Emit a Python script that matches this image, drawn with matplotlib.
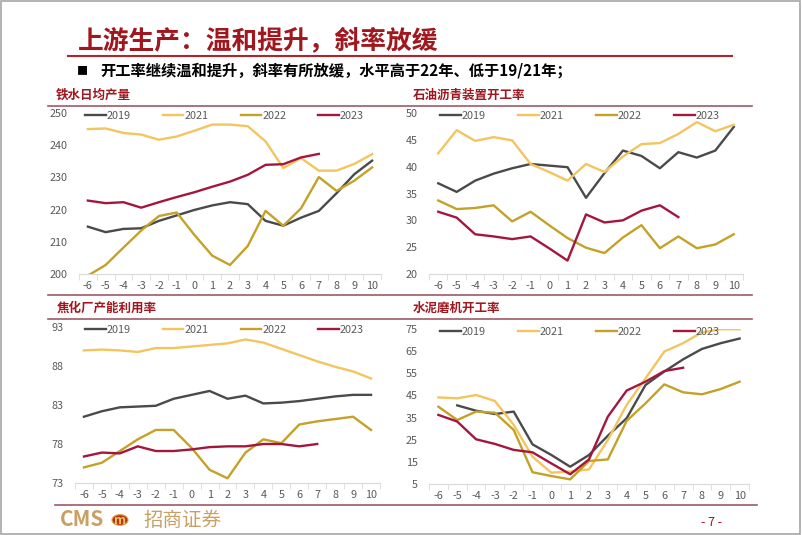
import numpy as np
import matplotlib
matplotlib.use("Agg")
import matplotlib.pyplot as plt
from matplotlib.lines import Line2D
from matplotlib.patches import Circle, Rectangle

plt.rcParams['font.family'] = ['Noto Sans CJK SC', 'DejaVu Sans']
plt.rcParams['axes.unicode_minus'] = False

# ---- data ----
x_cats = list(range(-6, 11))
years = ["2019", "2021", "2022", "2023"]
nan = np.nan

# 铁水日均产量
iron_2019 = [214.7, 213.0, 214.0, 214.2, 216.5, 218.2, 219.9, 221.3, 222.3, 221.7, 216.5, 215.0, 217.5, 219.6, 225.1, 231.0, 235.2]
iron_2021 = [245.0, 245.2, 243.8, 243.3, 241.7, 242.7, 244.5, 246.4, 246.4, 245.9, 241.2, 232.9, 236.0, 232.1, 232.1, 234.2, 237.2]
iron_2022 = [199.5, 202.8, 208.2, 213.5, 218.0, 219.1, 212.1, 205.7, 202.8, 208.7, 219.6, 215.0, 220.4, 230.1, 225.8, 229.0, 233.1]
iron_2023 = [222.8, 222.0, 222.3, 220.6, 222.3, 223.9, 225.4, 227.1, 228.7, 230.8, 233.9, 234.1, 236.2, 237.3, nan, nan, nan]

# 石油沥青装置开工率
asph_2019 = [36.9, 35.3, 37.4, 38.7, 39.7, 40.5, 40.2, 39.9, 34.2, 38.8, 43.0, 42.0, 39.7, 42.7, 41.7, 43.0, 47.4]
asph_2021 = [42.5, 46.8, 44.8, 45.5, 44.9, 40.5, 39.0, 37.4, 40.5, 39.0, 41.9, 44.2, 44.4, 46.1, 48.3, 46.6, 47.8]
asph_2022 = [33.7, 32.1, 32.3, 32.8, 29.8, 31.6, 29.1, 26.7, 24.9, 23.9, 26.8, 29.1, 24.8, 27.0, 24.8, 25.5, 27.4]
asph_2023 = [31.6, 30.5, 27.4, 27.0, 26.5, 27.0, 24.8, 22.5, 31.1, 29.6, 30.0, 31.8, 32.8, 30.6, nan, nan, nan]

# 焦化厂产能利用率
coke_2019 = [81.5, 82.2, 82.7, 82.8, 82.9, 83.8, 84.3, 84.8, 83.8, 84.2, 83.2, 83.3, 83.5, 83.8, 84.1, 84.3, 84.3]
coke_2021 = [90.0, 90.1, 90.0, 89.8, 90.3, 90.3, 90.5, 90.7, 90.9, 91.4, 91.0, 90.2, 89.4, 88.6, 87.9, 87.3, 86.4]
coke_2022 = [75.0, 75.6, 77.1, 78.6, 79.8, 79.8, 77.5, 74.7, 73.6, 76.9, 78.6, 78.1, 80.5, 80.9, 81.2, 81.5, 79.8]
coke_2023 = [76.4, 76.9, 76.8, 77.7, 77.1, 77.1, 77.3, 77.6, 77.7, 77.7, 78.0, 78.0, 77.7, 78.0, nan, nan, nan]

# 水泥磨机开工率
cem_2019 = [nan, 40.5, 38.1, 36.6, 37.7, 22.9, 18.1, 12.8, 18.1, 26.8, 34.7, 49.7, 55.8, 61.3, 66.0, 68.6, 70.7]
cem_2021 = [44.1, 43.7, 45.2, 42.5, 31.7, 17.3, 10.1, 10.6, 11.6, 24.9, 40.7, 52.7, 64.8, 68.6, 73.5, 74.9, 74.9]
cem_2022 = [39.9, 33.9, 37.7, 37.2, 29.4, 10.3, 8.6, 7.1, 15.4, 16.1, 33.5, 41.4, 50.0, 46.4, 45.5, 47.9, 51.2]
cem_2023 = [36.2, 33.2, 25.2, 23.1, 20.4, 19.3, 14.3, 9.4, 16.1, 35.4, 47.2, 51.2, 56.0, 57.5, nan, nan, nan]

colors = ["#4A4A4A", "#F3C55E", "#C4A127", "#A3173F"]
dark_red = "#A0171E"
gray_txt = "#595959"

W, H = 802, 535
fig = plt.figure(figsize=(W / 100, H / 100), dpi=100)


def fx(x):
    return x / W


def fy(y):
    return 1 - y / H


def hline(y, x0, x1, color, lw):
    fig.add_artist(Line2D([fx(x0), fx(x1)], [fy(y), fy(y)], transform=fig.transFigure,
                          color=color, linewidth=lw))


def make_panel(box, series, ylim, yticks, title, title_xy, leg_span):
    x0, y0, x1, y1 = box
    ax = fig.add_axes([fx(x0), fy(y1), fx(x1 - x0), (y1 - y0) / H])
    for i in range(4):
        ax.plot(x_cats, series[i], color=colors[i], linewidth=1.7, label=years[i])
    ax.set_xlim(-6.5, 10.5)
    ax.set_ylim(*ylim)
    ax.set_yticks(yticks)
    ax.set_xticks(x_cats)
    ax.set_xticks(np.arange(-6.5, 11, 1), minor=True)
    for s in ["top", "right", "left"]:
        ax.spines[s].set_visible(False)
    ax.spines["bottom"].set_color("#D9D9D9")
    ax.tick_params(axis="both", which="major", length=0, labelsize=7.8, colors=gray_txt)
    ax.tick_params(axis="y", pad=8)
    ax.tick_params(axis="x", pad=5)
    ax.tick_params(axis="x", which="minor", length=4, color="#D9D9D9")
    lx0 = (leg_span[0] - x0) / (x1 - x0)
    lx1 = (leg_span[1] - x0) / (x1 - x0)
    ax.legend(ncol=4, loc="center", bbox_to_anchor=(lx0, 0.93, lx1 - lx0, 0.1), mode="expand",
              frameon=False, handlelength=1.9, handletextpad=0.1, borderaxespad=0,
              borderpad=0, fontsize=7.8, labelcolor=gray_txt)
    fig.text(fx(title_xy[0]), fy(title_xy[1]), title, fontsize=9, fontweight="bold",
             color=dark_red, va="center", ha="left")
    return ax


make_panel((79, 113, 381, 274), [iron_2019, iron_2021, iron_2022, iron_2023],
           (200, 250), np.arange(200, 251, 10), "铁水日均产量", (56, 95), (85, 364))
make_panel((429, 113, 743, 274), [asph_2019, asph_2021, asph_2022, asph_2023],
           (20, 50), np.arange(20, 51, 5), "石油沥青装置开工率", (413, 95), (440, 720))
make_panel((75, 327, 380, 483), [coke_2019, coke_2021, coke_2022, coke_2023],
           (73, 93), np.arange(73, 94, 5), "焦化厂产能利用率", (57, 308), (85, 364))
make_panel((429, 329, 749, 484), [cem_2019, cem_2021, cem_2022, cem_2023],
           (5, 75), np.arange(5, 76, 10), "水泥磨机开工率", (413, 308), (440, 720))

# slide header
fig.text(fx(78), fy(41), "上游生产：温和提升，斜率放缓", fontsize=18.5, fontweight="bold",
         color=dark_red, va="center", ha="left")
hline(56, 68, 732, "#B0232A", 1.5)
fig.text(fx(82), fy(71), "■", fontsize=8, color="black", va="center", ha="center")
fig.text(fx(100), fy(71), "开工率继续温和提升，斜率有所放缓，水平高于22年、低于19/21年；",
         fontsize=11, fontweight="bold", color="black", va="center", ha="left")

# panel frame lines
line_c = "#9C5A66"
hline(106, 48, 752, line_c, 1.2)
hline(295, 48, 752, line_c, 1.2)
hline(319, 48, 752, line_c, 1.2)
hline(505, 55, 757, line_c, 1.2)

# footer
tan = "#C9A063"
fig.text(fx(60), fy(520), "CMS", fontsize=15, fontweight="bold", color=tan, va="center", ha="left")
fig.add_artist(Circle((fx(120), fy(520)), 8 / W, transform=fig.transFigure,
                      facecolor="#B5361B", edgecolor="#E0A040", linewidth=0.8))
fig.text(fx(120), fy(520), "m", fontsize=9, fontstyle="italic", fontweight="bold",
         color="#F2C25A", va="center", ha="center")
fig.text(fx(143), fy(520), "招商证券", fontsize=14, color=tan, va="center", ha="left")
fig.text(fx(712), fy(523), "- 7 -", fontsize=9, color=dark_red, va="center", ha="center")

# slide border
fig.add_artist(Rectangle((0.001, 0.001), 0.997, 0.997, transform=fig.transFigure,
                         fill=False, edgecolor="#A6A6A6", linewidth=1.2))

fig.savefig("out.png", dpi=100)
